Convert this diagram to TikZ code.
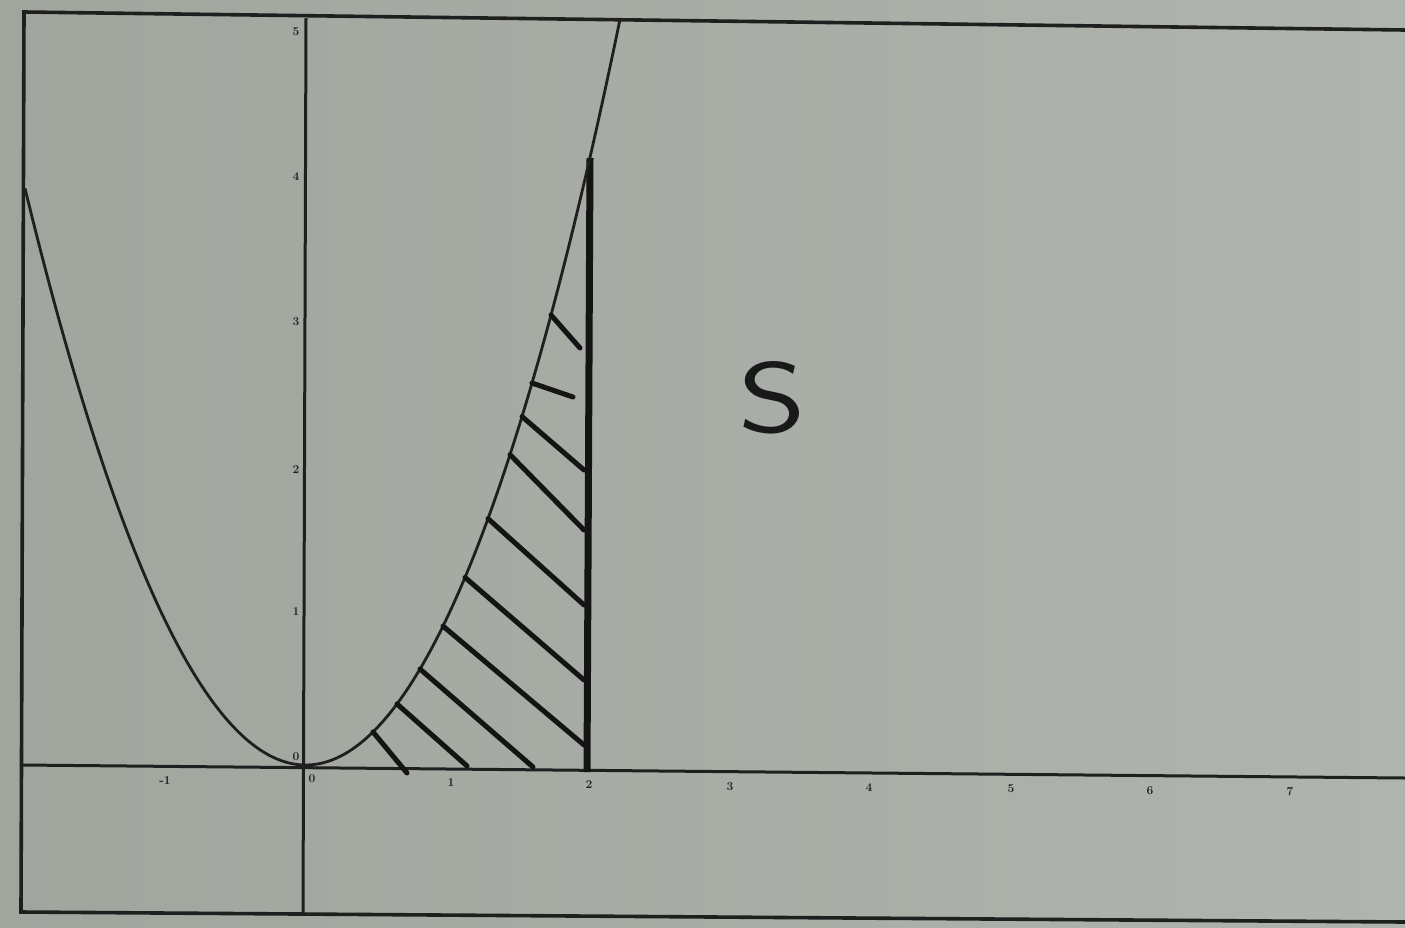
\documentclass[tikz,border=0pt]{standalone}
\usepackage{fontspec}
\begin{document}
\begin{tikzpicture}[x=1pt,y=-1pt,
  frameline/.style={line width=3.6pt,black!88},
  axisline/.style={line width=3pt,black!88},
  curveline/.style={line width=2.8pt,black!88},
  hatchline/.style={line width=5pt,black!92,line cap=round},
  bigline/.style={line width=7pt,black!92},
  ticklab/.style={font=\fontsize{12}{12}\selectfont\bfseries,text=black!88,inner sep=0pt}]
\useasboundingbox (0,0) rectangle (1405,927);
\shade[left color={rgb,255:red,160;green,165;blue,158},right color={rgb,255:red,176;green,180;blue,174}] (0,0) rectangle (1405,927);
% frame
\coordinate (tl) at (24,12);
\coordinate (tr) at (1405,30);
\coordinate (bl) at (21,912);
\coordinate (br) at (1405,922);
\draw[frameline] (tr) -- (tl) -- (bl) -- (br);
% axes
\coordinate (xl) at (22,765);
\coordinate (xr) at (1405,778);
\coordinate (yt) at (306,18);
\coordinate (yb) at (303,914);
\draw[axisline] (xl) -- (xr);
\draw[axisline] (yt) -- (yb);
% tick labels
\foreach \lab/\px/\py in {-1/165/781,0/312/779,1/451/783,2/589/785,3/730/787,4/869/788,5/1011/789,6/1150/791,7/1290/792}
  \node[ticklab] (xt\lab) at (\px,\py) {\lab};
\foreach \lab/\py in {5/32,4/177,3/322,2/470,1/612,0/757}
  \node[ticklab] (yt\lab) at (296,\py) {\lab};
% thick right edge of the region
\coordinate (vb) at (587,772);
\coordinate (vt) at (590,158);
\draw[bigline] (vb) -- (vt);
% mathematical coordinates (x in units, y in pixels upward)
\begin{scope}[shift={(305,765)},x={(140pt,-1.3pt)},y={(0pt,1pt)}]
  \draw[curveline] plot[domain=-2:0,samples=80] (\x,{143.5*\x*\x})
                   -- plot[domain=0:2.25,samples=100] (\x,{141.5*\x*\x+2.83*\x*\x*\x});
  \foreach \spx/\epx/\epy [count=\i] in {551/580/348, 532/573/397, 522/584/470, 510/584/530,
                          488/584/605, 465/584/680, 443/584/745, 420/533/767,
                          397/467/766, 373/407/773}
    \draw[hatchline] ({(\spx-305)/140},{141.5*((\spx-305)/140)^2+2.83*((\spx-305)/140)^3})
        -- ({(\epx-305)/140},{765+1.3*(\epx-305)/140-\epy});
\end{scope}
\node[font=\sffamily\fontsize{100}{100}\selectfont,text=black!90,inner sep=0pt,xscale=1.3] (S) at (772,398) {S};
\end{tikzpicture}
\end{document}
